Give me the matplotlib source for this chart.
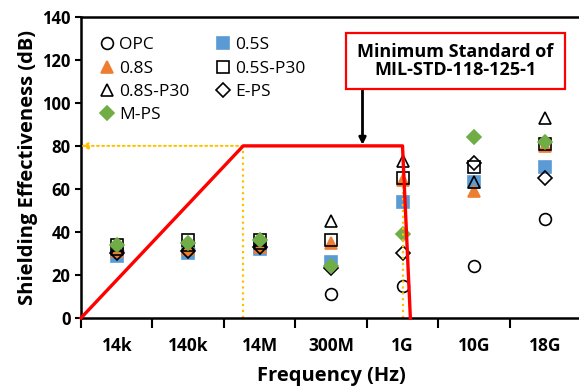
import matplotlib
matplotlib.use("Agg")
import matplotlib.pyplot as plt
from matplotlib.patches import Rectangle

plt.rcParams['font.family'] = ['Open Sans', 'DejaVu Sans']

freqs = ["14k", "140k", "14M", "300M", "1G", "10G", "18G"]

opc      = [31, 32, 33, 11, 15, 24, 46]
s05      = [29, 30, 32, 26, 54, 63, 70]
s08      = [31, 32, 33, 35, 64, 59, 80]
s05_p30  = [34, 36, 36, 36, 65, 70, 81]
s08_p30  = [32, 34, 35, 45, 73, 63, 93]
e_ps     = [30, 31, 33, 23, 30, 72, 65]
m_ps     = [34, 35, 36, 24, 39, 84, 82]

# minimum standard curve (category positions, dB)
std_x = [-0.5, 1.77, 4.0, 4.11]
std_y = [0, 80, 80, 0]

series = [
    ("OPC", opc, dict(marker="o", mfc="none", mec="black")),
    ("0.5S", s05, dict(marker="s", mfc="#5B9BD5", mec="#5B9BD5")),
    ("0.8S", s08, dict(marker="^", mfc="#ED7D31", mec="#ED7D31")),
    ("0.5S-P30", s05_p30, dict(marker="s", mfc="none", mec="black")),
    ("0.8S-P30", s08_p30, dict(marker="^", mfc="none", mec="black")),
    ("E-PS", e_ps, dict(marker="D", mfc="none", mec="black", ms=7)),
    ("M-PS", m_ps, dict(marker="D", mfc="#70AD47", mec="#70AD47", ms=7)),
]

fig = plt.figure(figsize=(5.79, 3.92), dpi=100)
ax = fig.add_axes([0.140, 0.189, 0.8636, 0.768])

x = list(range(len(freqs)))
handles = []
for name, vals, st in series:
    kw = dict(ms=8.5, mew=1.2, ls="none")
    kw.update(st)
    h, = ax.plot(x, vals, label=name, **kw)
    handles.append(h)

# standard and guide lines
orange = "#FFC000"
ax.plot([std_x[1], std_x[1]], [0, std_y[1]], color=orange, ls=":", lw=1.6)
ax.plot([std_x[2], std_x[2]], [0, std_y[2]], color=orange, ls=":", lw=1.6)
ax.annotate("", xy=(-0.5, 80), xytext=(std_x[1], 80),
            arrowprops=dict(arrowstyle="-|>", color=orange, ls=":", lw=1.4,
                            mutation_scale=10, shrinkA=0, shrinkB=0))
ax.plot(std_x, std_y, color="red", lw=2.4, zorder=5, clip_on=False)

# callout box
ax.add_patch(Rectangle((3.21, 106.5), 3.06, 26, fc="white", ec="red", lw=1.6, zorder=6))
ax.text(4.74, 119.5, "Minimum Standard of\nMIL-STD-118-125-1", ha="center", va="center",
        fontsize=13, fontweight="bold", linespacing=1.05, zorder=7)
ax.annotate("", xy=(3.44, 80.5), xytext=(3.44, 106.5),
            arrowprops=dict(arrowstyle="-|>", color="black", lw=2, mutation_scale=10,
                            shrinkA=0, shrinkB=0))

ax.set_xlim(-0.5, 6.5)
ax.set_ylim(0, 140)
ax.set_yticks(range(0, 141, 20))

ax.set_xticks([i + 0.5 for i in range(-1, 6)])
ax.set_xticklabels([])
ax.set_xticks(x, minor=True)
ax.set_xticklabels(freqs, minor=True, fontsize=12.5, fontweight="bold")
ax.tick_params(axis="x", which="major", direction="out", length=7, width=1.5)
ax.tick_params(axis="x", which="minor", length=0, pad=14)
ax.tick_params(axis="y", direction="out", length=4, width=1.5, labelsize=12)
for lab in ax.get_yticklabels():
    lab.set_fontweight("bold")

for sp in ["left", "bottom", "top"]:
    ax.spines[sp].set_linewidth(1.8)
ax.spines["right"].set_visible(False)

ax.set_ylabel("Shielding Effectiveness (dB)", fontsize=14.5, fontweight="bold", labelpad=3)
ax.set_xlabel("Frequency (Hz)", fontsize=14.5, fontweight="bold", labelpad=8)

# row-major legend order as in the original
order = [0, 2, 4, 6, 1, 3, 5]
ax.legend([handles[i] for i in order], [series[i][0] for i in order],
          ncol=2, loc="upper left", bbox_to_anchor=(0.0, 0.985), frameon=False,
          fontsize=12.5, handletextpad=0.1, columnspacing=1.3, labelspacing=0.42,
          handlelength=1.2)

fig.savefig("out.png", dpi=100)
